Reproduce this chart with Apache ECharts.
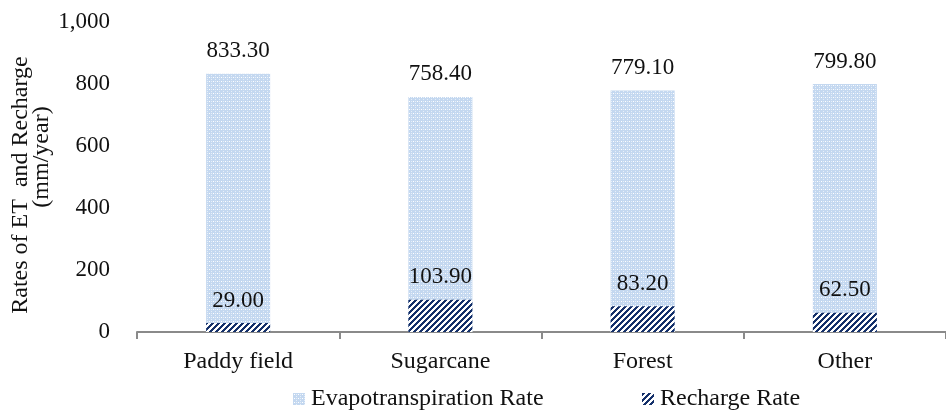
<!DOCTYPE html>
<html>
<head>
<meta charset="utf-8">
<script src="https://cdn.jsdelivr.net/npm/echarts@6/dist/echarts.min.js"></script>
<style>
  html, body { margin: 0; padding: 0; background: #fff; }
  #chart { width: 946px; height: 410px; }
</style>
</head>
<body>
<div id="chart"></div>
<script>
// Land-use categories and annual rates (mm/year)
const categories = ['Paddy field', 'Sugarcane', 'Forest', 'Other'];
const etRate = [833.30, 758.40, 779.10, 799.80];
const rechargeRate = [29.00, 103.90, 83.20, 62.50];
const yTicks = [0, 200, 400, 600, 800, 1000];
const seriesNames = ['Evapotranspiration Rate', 'Recharge Rate'];

const FONT = "'Liberation Serif', 'Times New Roman', serif";

// Light blue dotted fill for the ET bars
function dottedPattern() {
  const c = document.createElement('canvas');
  c.width = 4; c.height = 4;
  const g = c.getContext('2d');
  g.fillStyle = '#c4d8f0';
  g.fillRect(0, 0, 4, 4);
  g.fillStyle = '#ffffff';
  g.fillRect(1, 1, 1, 1);
  g.fillStyle = '#e6eff9';
  g.fillRect(3, 3, 1, 1);
  g.fillRect(3, 1, 1, 1);
  return c;
}

// Dark navy diagonal hatch for the recharge bars
function hatchPattern() {
  const n = 6;
  const c = document.createElement('canvas');
  c.width = n; c.height = n;
  const g = c.getContext('2d');
  for (let x = 0; x < n; x++) {
    for (let y = 0; y < n; y++) {
      g.fillStyle = ((x + y) % n) < 3 ? '#14306a' : '#ffffff';
      g.fillRect(x, y, 1, 1);
    }
  }
  return c;
}

const etFill = { image: dottedPattern(), repeat: 'repeat' };
const rechargeFill = { image: hatchPattern(), repeat: 'repeat' };

const chart = echarts.init(document.getElementById('chart'), null, { renderer: 'canvas' });

const labelStyle = {
  show: true,
  position: 'top',
  distance: 11,
  color: '#111',
  fontFamily: FONT,
  fontSize: 23,
  formatter: p => p.value.toFixed(2)
};

const legendText = { fontFamily: FONT, fontSize: 24, color: '#111', padding: [0, 0, 0, 1] };

chart.setOption({
  animation: false,
  backgroundColor: '#ffffff',
  textStyle: { fontFamily: FONT },
  grid: { left: 137, top: 22, width: 817, height: 310, containLabel: false },
  legend: [
    {
      data: [seriesNames[0]],
      left: 288, top: 382,
      icon: 'rect', itemWidth: 12, itemHeight: 12, itemGap: 6,
      textStyle: legendText
    },
    {
      data: [seriesNames[1]],
      left: 637, top: 382,
      icon: 'rect', itemWidth: 12, itemHeight: 12, itemGap: 6,
      textStyle: legendText
    }
  ],
  xAxis: {
    type: 'category',
    data: categories,
    boundaryGap: true,
    axisLine: { show: true, lineStyle: { color: '#8a8a8a', width: 2 } },
    axisTick: { show: true, length: 7, alignWithLabel: false, lineStyle: { color: '#8a8a8a', width: 2 } },
    axisLabel: { margin: 18, color: '#111', fontFamily: FONT, fontSize: 24 }
  },
  yAxis: {
    type: 'value',
    min: yTicks[0],
    max: yTicks[yTicks.length - 1],
    interval: yTicks[1] - yTicks[0],
    axisLine: { show: false },
    axisTick: { show: false },
    splitLine: { show: false },
    axisLabel: {
      margin: 27,
      color: '#111',
      fontFamily: FONT,
      fontSize: 23,
      formatter: v => v.toLocaleString('en-US')
    }
  },
  graphic: [
    {
      type: 'text', x: 21, y: 185, rotation: Math.PI / 2,
      style: { text: 'Rates of ET  and Recharge', font: "24px 'Liberation Serif', serif", fill: '#111', align: 'center', verticalAlign: 'middle' }
    },
    {
      type: 'text', x: 42, y: 157, rotation: Math.PI / 2,
      style: { text: '(mm/year)', font: "24px 'Liberation Serif', serif", fill: '#111', align: 'center', verticalAlign: 'middle' }
    }
  ],
  series: [
    {
      name: seriesNames[0],
      type: 'bar',
      data: etRate,
      barWidth: 64,
      barGap: '-100%',
      itemStyle: { color: etFill },
      label: labelStyle,
      z: 2
    },
    {
      name: seriesNames[1],
      type: 'bar',
      data: rechargeRate,
      barWidth: 64,
      barGap: '-100%',
      itemStyle: { color: rechargeFill },
      label: labelStyle,
      z: 3
    }
  ]
});
</script>
</body>
</html>
